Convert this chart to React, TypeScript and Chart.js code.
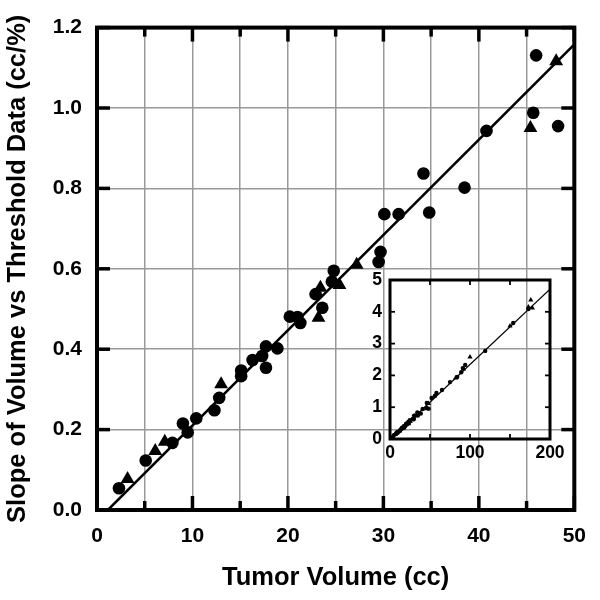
import React, { useEffect, useRef } from 'react';
import { Chart, registerables } from 'chart.js';
Chart.register(...registerables);

// ---- main plot data ----
const circleX = [2.3, 5.1, 7.9, 9.0, 9.5, 10.4, 12.3, 12.8, 15.1, 15.1, 16.3, 17.3, 17.7, 17.7, 18.9, 20.2, 21.0, 21.3, 22.9, 23.6, 24.6, 24.8, 29.5, 29.7, 30.1, 31.6, 34.2, 34.8, 38.5, 40.8, 45.7, 46.0, 48.3];
const circleY = [0.054, 0.123, 0.167, 0.215, 0.193, 0.228, 0.248, 0.279, 0.347, 0.333, 0.373, 0.383, 0.354, 0.407, 0.402, 0.481, 0.480, 0.465, 0.537, 0.503, 0.568, 0.595, 0.617, 0.642, 0.736, 0.736, 0.837, 0.740, 0.802, 0.943, 0.988, 1.131, 0.955];
const triX = [3.2, 6.1, 7.1, 13.0, 23.2, 23.4, 25.4, 27.2, 45.4, 48.1];
const triY = [0.077, 0.147, 0.170, 0.313, 0.478, 0.553, 0.560, 0.610, 0.950, 1.116];
const fitX = [1.14, 50];
const fitY = [0, 1.158];
const mainXTicks = [0, 5, 10, 15, 20, 25, 30, 35, 40, 45, 50];
const mainYTicks = [0, 0.2, 0.4, 0.6, 0.8, 1.0, 1.2];

// ---- inset data (larger volumes) ----
const insetCircleX = [52, 56, 58, 65, 75, 84, 89, 91, 94, 119, 154, 173];
const insetCircleY = [1.29, 1.35, 1.45, 1.54, 1.79, 1.95, 2.10, 2.23, 2.33, 2.77, 3.65, 4.09];
const insetTriX = [82, 92, 100, 150, 173, 176, 178];
const insetTriY = [1.92, 2.20, 2.58, 3.55, 4.15, 4.37, 4.12];
const insetFitX = [1.14, 200];
const insetFitY = [0, 4.71];
const insetXTicks = [0, 50, 100, 150, 200];
const insetYTicks = [0, 1, 2, 3, 4, 5];

const FONT = "'Liberation Sans', Arial, Helvetica, sans-serif";

const pts = (xs: number[], ys: number[]) => xs.map((x, i) => ({ x, y: ys[i] }));

function framePlugin(id: string, cfg: any) {
  return {
    id,
    afterDraw(chart: any) {
      const { ctx, chartArea: a, scales } = chart;
      const xs = scales.x, ys = scales.y;
      ctx.save();
      ctx.strokeStyle = '#000';
      ctx.lineCap = 'butt';
      ctx.lineWidth = cfg.tickWidth;
      const seg = (x1: number, y1: number, x2: number, y2: number) => {
        ctx.beginPath(); ctx.moveTo(x1, y1); ctx.lineTo(x2, y2); ctx.stroke();
      };
      cfg.xTicks.forEach((v: number) => {
        const px = xs.getPixelForValue(v);
        const len = cfg.xLen(v);
        seg(px, a.bottom, px, a.bottom - len);
        seg(px, a.top, px, a.top + len);
      });
      cfg.yTicks.forEach((v: number) => {
        const py = ys.getPixelForValue(v);
        seg(a.left, py, a.left + cfg.yLen, py);
        seg(a.right, py, a.right - cfg.yLen, py);
      });
      ctx.lineWidth = cfg.frameWidth;
      ctx.strokeRect(a.left, a.top, a.right - a.left, a.bottom - a.top);
      ctx.restore();
    },
  };
}

export default function App() {
  const mainRef = useRef<HTMLCanvasElement>(null);
  const insetRef = useRef<HTMLCanvasElement>(null);

  useEffect(() => {
    const main = new Chart(mainRef.current!, {
      type: 'scatter',
      data: {
        datasets: [
          {
            type: 'line',
            data: pts(fitX, fitY),
            borderColor: '#000',
            borderWidth: 2.5,
            pointRadius: 0,
            showLine: true,
            fill: false,
          } as any,
          {
            data: pts(circleX, circleY),
            pointStyle: 'circle',
            pointRadius: 6.3,
            backgroundColor: '#000',
            borderColor: '#000',
            borderWidth: 0,
          },
          {
            data: pts(triX, triY),
            pointStyle: 'triangle',
            pointRadius: 8,
            backgroundColor: '#000',
            borderColor: '#000',
            borderWidth: 0,
          },
        ],
      },
      options: {
        animation: false,
        responsive: false,
        events: [],
        layout: { padding: { left: 0, right: 22, top: 24, bottom: 0 } },
        plugins: { legend: { display: false }, tooltip: { enabled: false } },
        scales: {
          x: {
            type: 'linear',
            min: 0,
            max: 50,
            afterFit: (s: any) => { s.height = 90; },
            border: { display: false },
            grid: { color: '#999', lineWidth: 1.5, drawTicks: false },
            ticks: {
              stepSize: 5,
              autoSkip: false,
              maxRotation: 0,
              padding: 14,
              color: '#000',
              font: { family: FONT, size: 21, weight: 'bold' },
              callback: (v: any) => (Number(v) % 10 === 0 ? String(v) : ''),
            },
            title: {
              display: true,
              text: 'Tumor Volume (cc)',
              color: '#000',
              font: { family: FONT, size: 25.5, weight: 'bold' },
              padding: { top: 0, bottom: 7 },
            },
          },
          y: {
            type: 'linear',
            min: 0,
            max: 1.2,
            afterFit: (s: any) => { s.width = 97; },
            border: { display: false },
            grid: { color: '#999', lineWidth: 1.5, drawTicks: false },
            ticks: {
              stepSize: 0.2,
              autoSkip: false,
              padding: 15,
              color: '#000',
              font: { family: FONT, size: 21, weight: 'bold' },
              callback: (v: any) => Number(v).toFixed(1),
            },
            title: {
              display: true,
              text: 'Slope of Volume vs Threshold Data (cc/%)',
              color: '#000',
              font: { family: FONT, size: 25.5, weight: 'bold' },
              padding: { top: 3, bottom: 0 },
            },
          },
        },
      },
      plugins: [
        framePlugin('mainFrame', {
          xTicks: mainXTicks,
          yTicks: mainYTicks,
          xLen: (v: number) => (v % 10 === 0 ? 14 : 9),
          yLen: 13,
          tickWidth: 3.5,
          frameWidth: 4,
        }),
      ],
    } as any);

    const inset = new Chart(insetRef.current!, {
      type: 'scatter',
      data: {
        datasets: [
          {
            type: 'line',
            data: pts(insetFitX, insetFitY),
            borderColor: '#000',
            borderWidth: 1.3,
            pointRadius: 0,
            showLine: true,
            fill: false,
          } as any,
          {
            data: pts(circleX.concat(insetCircleX), circleY.concat(insetCircleY)),
            pointStyle: 'circle',
            pointRadius: 2.2,
            backgroundColor: '#000',
            borderWidth: 0,
          },
          {
            data: pts(triX.concat(insetTriX), triY.concat(insetTriY)),
            pointStyle: 'triangle',
            pointRadius: 3,
            backgroundColor: '#000',
            borderWidth: 0,
          },
        ],
      },
      options: {
        animation: false,
        responsive: false,
        events: [],
        layout: { padding: { left: 350, right: 50, top: 280, bottom: 121 } },
        plugins: { legend: { display: false }, tooltip: { enabled: false } },
        scales: {
          x: {
            type: 'linear',
            min: 0,
            max: 200,
            afterFit: (s: any) => { s.height = 40; },
            border: { display: false },
            grid: { display: false, drawTicks: false },
            ticks: {
              stepSize: 50,
              autoSkip: false,
              maxRotation: 0,
              padding: 4,
              color: '#000',
              font: { family: FONT, size: 17.5, weight: 'bold' },
              callback: (v: any) => (Number(v) % 100 === 0 ? String(v) : ''),
            },
          },
          y: {
            type: 'linear',
            min: 0,
            max: 5,
            afterFit: (s: any) => { s.width = 40; },
            border: { display: false },
            grid: { display: false, drawTicks: false },
            ticks: {
              stepSize: 1,
              autoSkip: false,
              padding: 8,
              color: '#000',
              font: { family: FONT, size: 17.5, weight: 'bold' },
            },
          },
        },
      },
      plugins: [
        framePlugin('insetFrame', {
          xTicks: insetXTicks,
          yTicks: insetYTicks,
          xLen: () => 5,
          yLen: 5,
          tickWidth: 1.8,
          frameWidth: 3,
        }),
      ],
    } as any);

    return () => {
      main.destroy();
      inset.destroy();
    };
  }, []);

  return (
    <div style={{ position: 'fixed', left: 0, top: 0, width: 600, height: 600, background: '#fff' }}>
      <canvas ref={mainRef} width={600} height={600} style={{ position: 'absolute', left: 0, top: 0, width: 600, height: 600 }} />
      <canvas ref={insetRef} width={600} height={600} style={{ position: 'absolute', left: 0, top: 0, width: 600, height: 600 }} />
    </div>
  );
}
